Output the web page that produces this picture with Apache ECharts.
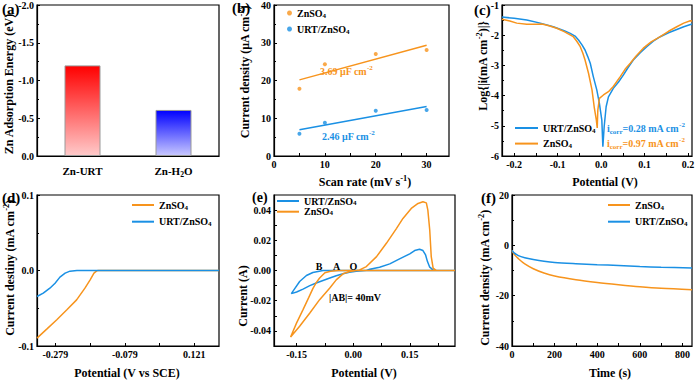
<!DOCTYPE html>
<html><head><meta charset="utf-8">
<script src="https://cdn.jsdelivr.net/npm/echarts@6/dist/echarts.min.js"></script>
<style>html,body{margin:0;padding:0;background:#fff}#c{width:700px;height:380px}</style>
</head><body><div id="c"></div>
<script>
// ---------- (a) adsorption energy ----------
const aCats = ['Zn-URT', 'Zn-H2O'];
const aVals = [-1.2, -0.61];

// ---------- (b) double-layer capacitance ----------
const bRate = [5, 10, 20, 30];
const bZn = [17.8, 24.3, 27.0, 28.1];
const bUrt = [5.9, 8.8, 12.0, 12.2];
const bXTicks = [0, 10, 20, 30];

// ---------- (c) Tafel ----------
const cUrt = [[-0.228,-1.40],[-0.2,-1.44],[-0.171,-1.50],[-0.14,-1.60],[-0.110,-1.72],[-0.085,-1.85],[-0.071,-1.94],[-0.06,-2.03],[-0.052,-2.16],[-0.044,-2.32],[-0.037,-2.49],[-0.031,-2.70],[-0.025,-2.93],[-0.018,-3.37],[-0.010,-3.81],[-0.004,-4.26],[0.0016,-4.81],[0.004,-5.69],[0.007,-5.03],[0.0115,-4.37],[0.0168,-4.04],[0.028,-3.76],[0.04,-3.55],[0.051,-3.32],[0.062,-3.07],[0.074,-2.82],[0.09,-2.58],[0.105,-2.38],[0.12,-2.20],[0.136,-2.05],[0.155,-1.92],[0.174,-1.81],[0.19,-1.72],[0.209,-1.63]];
const cZn = [[-0.228,-1.47],[-0.21,-1.53],[-0.194,-1.60],[-0.171,-1.64],[-0.15,-1.64],[-0.136,-1.63],[-0.12,-1.69],[-0.102,-1.77],[-0.085,-1.88],[-0.064,-2.05],[-0.056,-2.20],[-0.048,-2.38],[-0.042,-2.60],[-0.037,-2.82],[-0.029,-3.26],[-0.021,-3.81],[-0.016,-4.37],[-0.011,-4.81],[-0.009,-5.07],[-0.0076,-4.48],[-0.004,-4.09],[0.0053,-3.98],[0.0168,-3.87],[0.028,-3.70],[0.044,-3.37],[0.055,-3.13],[0.067,-2.93],[0.08,-2.70],[0.097,-2.43],[0.115,-2.22],[0.136,-2.05],[0.155,-1.87],[0.174,-1.72],[0.19,-1.60],[0.205,-1.52],[0.209,-1.53]];
const cXTicks = [-0.2, -0.1, 0, 0.1, 0.2];

// ---------- (d) LSV ----------
const dZn = [[-0.332,-0.0896],[-0.304,-0.0777],[-0.275,-0.0653],[-0.246,-0.0521],[-0.218,-0.0389],[-0.194,-0.0234],[-0.179,-0.0124],[-0.168,-0.0035],[-0.160,-0.0004],[-0.155,0],[0.192,0]];
const dUrt = [[-0.332,-0.0344],[-0.314,-0.030],[-0.295,-0.0234],[-0.280,-0.0168],[-0.266,-0.0088],[-0.251,-0.0035],[-0.237,-0.0009],[-0.217,0],[0.192,0]];
const dXTicks = [-0.279, -0.079, 0.121];

// ---------- (e) CV ----------
const eUrt = [[0.27,0],[-0.08,0],[-0.107,-0.0013],[-0.124,-0.0033],[-0.142,-0.0073],[-0.155,-0.012],[-0.164,-0.0153],[-0.150,-0.0142],[-0.133,-0.0123],[-0.115,-0.010],[-0.098,-0.0083],[-0.080,-0.0066],[-0.062,-0.0050],[-0.045,-0.0035],[-0.027,-0.0022],[-0.01,-0.0012],[0.008,-0.0005],[0.035,0],[0.044,0.0009],[0.070,0.0022],[0.097,0.0044],[0.123,0.0077],[0.150,0.011],[0.163,0.0132],[0.176,0.0141],[0.185,0.0132],[0.192,0.0103],[0.197,0.0059],[0.203,0.0022],[0.212,0.0004],[0.221,0],[0.27,0]];
const eZn = [[0.27,0],[-0.04,0],[-0.06,-0.0005],[-0.075,-0.0015],[-0.089,-0.005],[-0.098,-0.008],[-0.107,-0.012],[-0.118,-0.018],[-0.133,-0.0259],[-0.150,-0.0347],[-0.166,-0.044],[-0.142,-0.0369],[-0.115,-0.0281],[-0.089,-0.0193],[-0.062,-0.0116],[-0.045,-0.0062],[-0.027,-0.0022],[-0.009,-0.0007],[0.008,0],[0.017,0.0004],[0.035,0.0026],[0.062,0.0092],[0.088,0.018],[0.115,0.0279],[0.132,0.0345],[0.154,0.0411],[0.172,0.0444],[0.185,0.0455],[0.194,0.0448],[0.198,0.040],[0.203,0.0268],[0.207,0.0092],[0.212,0.0015],[0.221,0],[0.27,0]];
const eXTicks = [-0.15, 0, 0.15];
const eYTicks = [-0.04, -0.02, 0, 0.02, 0.04];

// ---------- (f) chronoamperometry ----------
const fTime = [0, 10, 30, 60, 100, 150, 200, 300, 400, 500, 600, 700, 845];
const fZn = [-2, -3.6, -5.3, -7.4, -9.3, -11.0, -12.2, -13.7, -14.8, -15.7, -16.5, -17.1, -17.6];
const fUrt = [-2, -3.0, -4.1, -4.9, -5.6, -6.3, -6.8, -7.3, -7.7, -8.0, -8.4, -8.7, -9.0];
const fXTicks = [0, 200, 400, 600, 800];

// ---------- styles ----------
const F = '"Liberation Serif","Times New Roman",serif';
const OR = '#f7941d', BL = '#1a90e4';
const barTop = ['#ff0000', '#0000ff'], barBot = ['#ffcaca', '#c8c8ff'];

function rich(fs, color) {
  const t = fs * 0.7;
  return {
    s: {fontSize: t, fontFamily: F, fontWeight: 'bold', color: color, verticalAlign: 'bottom', lineHeight: t},
    p: {fontSize: t, fontFamily: F, fontWeight: 'bold', color: color, verticalAlign: 'top', lineHeight: t}
  };
}
function grich(fs, fill) {
  const t = fs * 0.7;
  return {
    s: {fontSize: t, fontFamily: F, fontWeight: 'bold', fill: fill, verticalAlign: 'bottom', lineHeight: t},
    p: {fontSize: t, fontFamily: F, fontWeight: 'bold', fill: fill, verticalAlign: 'top', lineHeight: t}
  };
}
function txt(x, y, text, o) {
  o = o || {};
  const fs = o.fs || 12, fill = o.fill || '#000';
  return {type: 'text', x: x, y: y, rotation: o.rot || 0, z: 100,
    style: {text: text, fill: fill, fontFamily: F, fontWeight: 'bold', fontSize: fs, lineHeight: fs + 4,
      align: o.align || 'center', verticalAlign: 'middle', rich: grich(fs, fill)}};
}
function range(a, b, s) { const r = []; for (let v = a; v <= b + 1e-9; v += s) r.push(+v.toFixed(4)); return r; }
function fit(xs, ys) {
  const n = xs.length, mx = xs.reduce((p, c) => p + c, 0) / n, my = ys.reduce((p, c) => p + c, 0) / n;
  let sxy = 0, sxx = 0;
  for (let i = 0; i < n; i++) { sxy += (xs[i] - mx) * (ys[i] - my); sxx += (xs[i] - mx) ** 2; }
  const k = sxy / sxx, b = my - k * mx;
  return [[xs[0], b + k * xs[0]], [xs[n - 1], b + k * xs[n - 1]]];
}
function ax(grid, o) {
  const a = {gridIndex: grid, axisLine: {show: true, onZero: false, lineStyle: {color: '#000', width: 1.2}}, splitLine: {show: false}};
  a.axisTick = Object.assign({show: true, inside: true, length: 3, lineStyle: {color: '#000', width: 1}}, o.tick || {});
  a.axisLabel = Object.assign({color: '#000', fontFamily: F, fontWeight: 'bold', fontSize: 10, margin: 3, rich: rich(10, '#000')}, o.label || {});
  if (o.type !== 'category' && !o.tick) a.minorTick = {show: true, splitNumber: 2, length: 2, lineStyle: {color: '#000'}};
  delete o.tick; delete o.label;
  return Object.assign(a, o);
}
function lineS(name, xi, data, color, extra) {
  return Object.assign({type: 'line', name: name, xAxisIndex: xi, yAxisIndex: xi, data: data, color: color,
    symbol: 'none', lineStyle: {color: color, width: 1.5}, silent: true, animation: false}, extra || {});
}
const fmtName = n => n.split(':')[1].replace('SO4', 'SO{s|4}');
function leg(left, top, names, o) {
  return Object.assign({left: left, top: top, orient: 'vertical', padding: 0, itemGap: o.gap, itemWidth: o.w, itemHeight: o.h,
    selectedMode: false, itemStyle: {borderWidth: 0},
    data: names.map(n => ({name: n, icon: o.icon})), formatter: fmtName,
    textStyle: {color: '#000', fontFamily: F, fontWeight: 'bold', fontSize: 10, lineHeight: o.lh || 12, rich: rich(10, '#000')}});
}

const grids = [
  {left: 37, top: 5, width: 182, height: 151},
  {left: 274, top: 5, width: 175, height: 151},
  {left: 502, top: 5, width: 190, height: 151},
  {left: 37, top: 195, width: 182, height: 151},
  {left: 274, top: 195, width: 181, height: 151},
  {left: 512, top: 195, width: 180, height: 151}
].map(g => Object.assign(g, {show: true, borderColor: '#000', borderWidth: 1.2, backgroundColor: 'transparent'}));

const option = {
  animation: false,
  backgroundColor: '#fff',
  grid: grids,
  xAxis: [
    ax(0, {type: 'category', data: aCats, label: {fontSize: 11, lineHeight: 15, margin: 7, formatter: v => v.replace('H2O', 'H{s|2}O'), rich: rich(11, '#000')}, tick: {alignWithLabel: true}}),
    ax(1, {type: 'value', min: 0, max: 34.4, label: {customValues: bXTicks}, tick: {customValues: range(0, 30, 5)}}),
    ax(2, {type: 'value', min: -0.228, max: 0.209, label: {customValues: cXTicks, formatter: v => v.toFixed(1)}, tick: {customValues: range(-0.2, 0.2, 0.05)}}),
    ax(3, {type: 'value', min: -0.332, max: 0.192, label: {customValues: dXTicks, formatter: v => v.toFixed(3)}, tick: {customValues: [-0.279, -0.179, -0.079, 0.021, 0.121]}}),
    ax(4, {type: 'value', min: -0.21, max: 0.27, label: {customValues: eXTicks, formatter: v => v.toFixed(2)}, tick: {customValues: [-0.15, -0.075, 0, 0.075, 0.15, 0.225]}}),
    ax(5, {type: 'value', min: 0, max: 845, label: {customValues: fXTicks}, tick: {customValues: range(0, 800, 100)}})
  ],
  yAxis: [
    ax(0, {type: 'value', inverse: true, min: -2, max: 0, interval: 0.5, label: {formatter: v => v.toFixed(1)}}),
    ax(1, {type: 'value', min: 0, max: 40, interval: 10}),
    ax(2, {type: 'value', min: -6, max: -1, interval: 1}),
    ax(3, {type: 'value', min: -0.1, max: 0.1, interval: 0.1, label: {formatter: v => v.toFixed(1)}}),
    ax(4, {type: 'value', min: -0.05, max: 0.05, label: {customValues: eYTicks, formatter: v => v.toFixed(2)}, tick: {customValues: range(-0.04, 0.04, 0.01)}}),
    ax(5, {type: 'value', min: -40, max: 20, interval: 20})
  ],
  legend: [
    leg(287, 7, ['b:ZnSO4', 'b:URT/ZnSO4'], {icon: 'circle', w: 5, h: 5, gap: 4}),
    leg(515, 122, ['c:URT/ZnSO4', 'c:ZnSO4'], {icon: 'rect', w: 23, h: 2, gap: 3.6}),
    leg(132, 199, ['d:ZnSO4', 'd:URT/ZnSO4'], {icon: 'rect', w: 22, h: 2, gap: 4.7}),
    leg(277, 196, ['e:URT/ZnSO4', 'e:ZnSO4'], {icon: 'rect', w: 22, h: 2, gap: 0.7, lh: 10}),
    leg(608, 199, ['f:ZnSO4', 'f:URT/ZnSO4'], {icon: 'rect', w: 22, h: 2, gap: 4.7})
  ],
  series: [
    {type: 'bar', name: 'a', xAxisIndex: 0, yAxisIndex: 0, barWidth: 36, silent: true,
      data: aVals.map((v, i) => ({value: v, itemStyle: {color: {type: 'linear', x: 0, y: 0, x2: 0, y2: 1,
        colorStops: [{offset: 0, color: barTop[i]}, {offset: 1, color: barBot[i]}]}}})),
      itemStyle: {borderColor: '#9a9a9a', borderWidth: 1}},
    {type: 'scatter', name: 'b:ZnSO4', xAxisIndex: 1, yAxisIndex: 1, data: bRate.map((x, i) => [x, bZn[i]]), symbolSize: 4, color: OR, silent: true},
    {type: 'scatter', name: 'b:URT/ZnSO4', xAxisIndex: 1, yAxisIndex: 1, data: bRate.map((x, i) => [x, bUrt[i]]), symbolSize: 4, color: BL, silent: true},
    lineS('b:fitZn', 1, fit(bRate, bZn), OR),
    lineS('b:fitUrt', 1, fit(bRate, bUrt), BL),
    lineS('c:URT/ZnSO4', 2, cUrt, BL),
    lineS('c:ZnSO4', 2, cZn, OR),
    lineS('d:ZnSO4', 3, dZn, OR),
    lineS('d:URT/ZnSO4', 3, dUrt, BL),
    lineS('e:URT/ZnSO4', 4, eUrt, BL),
    lineS('e:ZnSO4', 4, eZn, OR),
    lineS('f:ZnSO4', 5, fTime.map((t, i) => [t, fZn[i]]), OR, {smooth: 0.3}),
    lineS('f:URT/ZnSO4', 5, fTime.map((t, i) => [t, fUrt[i]]), BL, {smooth: 0.3})
  ],
  graphic: [
    txt(2, 9, '(a)', {fs: 15, align: 'left'}),
    txt(232, 8, '(b)', {fs: 15, align: 'left'}),
    txt(474, 10, '(c)', {fs: 15, align: 'left'}),
    txt(2, 198, '(d)', {fs: 15, align: 'left'}),
    txt(252, 197, '(e)', {fs: 14, align: 'left'}),
    txt(481, 198, '(f)', {fs: 15, align: 'left'}),
    txt(9, 84, 'Zn Adsorption Energy (eV)', {rot: Math.PI / 2}),
    txt(245, 72, 'Current density (μA cm{p|-2})', {rot: Math.PI / 2}),
    txt(483, 66, 'Log{|i(mA cm{p|-2})|}', {rot: Math.PI / 2}),
    txt(10, 268, 'Current destiny (mA cm{p|-2})', {rot: Math.PI / 2}),
    txt(243, 296, 'Current (A)', {rot: Math.PI / 2}),
    txt(485, 278, 'Current density (mA cm{p|-2})', {rot: Math.PI / 2}),
    txt(365, 182, 'Scan rate (mV s{p|-1})'),
    txt(605, 182, 'Potential (V)'),
    txt(127, 372.5, 'Potential (V vs SCE)'),
    txt(364, 372.5, 'Potential (V)'),
    txt(610, 372.5, 'Time (s)'),
    txt(320, 71, '3.69 μF cm{p|-2}', {fs: 10, fill: OR, align: 'left'}),
    txt(322, 136, '2.46 μF cm{p|-2}', {fs: 10, fill: BL, align: 'left'}),
    txt(607, 128, 'i{s|corr}=0.28 mA cm{p|-2}', {fs: 10, fill: BL, align: 'left'}),
    txt(607, 143.5, 'i{s|corr}=0.97 mA cm{p|-2}', {fs: 10, fill: OR, align: 'left'}),
    txt(319, 266, 'B', {fs: 10}),
    txt(336.7, 266, 'A', {fs: 10}),
    txt(353.3, 266, 'O', {fs: 10}),
    txt(355, 297, '|AB|= 40mV', {fs: 10})
  ]
};
const chart = echarts.init(document.getElementById('c'), null, {renderer: 'svg', width: 700, height: 380});
chart.setOption(option);
</script></body></html>
